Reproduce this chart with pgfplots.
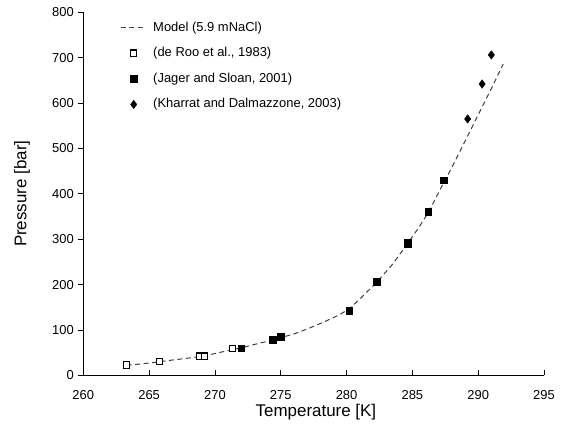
\documentclass[border=0pt]{standalone}
\usepackage{pgfplots}
\pgfplotsset{compat=1.18}
\usepackage{fontspec}
\setmainfont{Liberation Sans}
\pgfplotsset{
  lineleg/.style={legend image code/.code={\draw[##1] (0bp,0bp) -- (25bp,0bp);}},
  markleg/.style={legend image code/.code={\draw[##1] plot coordinates {(13bp,0bp)};}},
}
\begin{document}
\begin{tikzpicture}
\useasboundingbox (-83.3bp,-52bp) rectangle (478.7bp,375.3bp);
\begin{axis}[
  at={(0,0)}, anchor=south west,
  width=460.7bp, height=363bp, scale only axis,
  xmin=260, xmax=295, ymin=0, ymax=800,
  xtick={260,265,...,295}, ytick={0,100,...,800},
  axis lines=left, axis line style={-, line width=1bp, black},
  tick align=outside, major tick length=5bp,
  tick style={black, line width=0.8bp},
  every x tick/.append style={yshift=5bp},
  /pgf/number format/assume math mode=true,
  ticklabel style={font=\fontsize{13}{15}\selectfont},
  yticklabel style={xshift=-1bp},
  xticklabel style={yshift=-7bp},
  every axis x label/.style={at={(axis description cs:0.505,-0.102)}, anchor=center},
  every axis y label/.style={at={(axis description cs:-0.133,0.5)}, anchor=center, rotate=90},
  label style={font=\fontsize{17}{20}\selectfont},
  xlabel={Temperature [K]}, ylabel={Pressure [bar]},
  legend cell align=left,
  legend style={draw=none, fill=none, inner sep=0pt, at={(axis description cs:0.0797,0.979)}, anchor=north west,
    row sep=10.6bp, column sep=6bp, font=\fontsize{13}{15}\selectfont,
    nodes={inner sep=1bp, text height=10bp, text depth=3bp}},
]
\addplot[color=black!75, line width=1bp, dash pattern=on 5bp off 3.5bp, lineleg]
  coordinates {(263.3,22) (264,24) (265,27) (265.8,30) (267,34.5) (268,38) (268.9,41.5) (270,48) (271.4,57) (272,60.5) (273,68) (274.4,78) (275,83) (276,91) (277,102) (278,114) (279,127) (279.6,136) (280.2,146) (281,168) (282.3,205) (283.5,245) (284.6,289) (285.4,322) (286.2,358) (287.4,426) (288,458) (289,516) (290,574) (291,632) (291.9,686)};
\addlegendentry{Model (5.9 mNaCl)}
\addplot[only marks, mark=square*, mark size=3.2bp, mark options={fill=white, draw=black, line width=1.1bp, solid}, markleg]
  coordinates {(263.3,23) (265.8,30) (268.85,42) (269.2,42) (271.35,59) (284.65,292)};
\addlegendentry{(de Roo et al., 1983)}
\addplot[only marks, mark=square*, mark size=3.3bp, mark options={fill=black, draw=black, solid}, markleg]
  coordinates {(272.0,60) (274.4,79) (275.0,85) (280.2,143) (282.3,206) (284.65,289.5) (286.2,360) (287.4,430)};
\addlegendentry{(Jager and Sloan, 2001)}
\addplot[only marks, mark=diamond*, mark size=4.2bp, mark options={fill=black, draw=black, solid}, markleg]
  coordinates {(289.2,565) (290.3,642) (291.0,706)};
\addlegendentry{(Kharrat and Dalmazzone, 2003)}
\end{axis}
\end{tikzpicture}
\end{document}
